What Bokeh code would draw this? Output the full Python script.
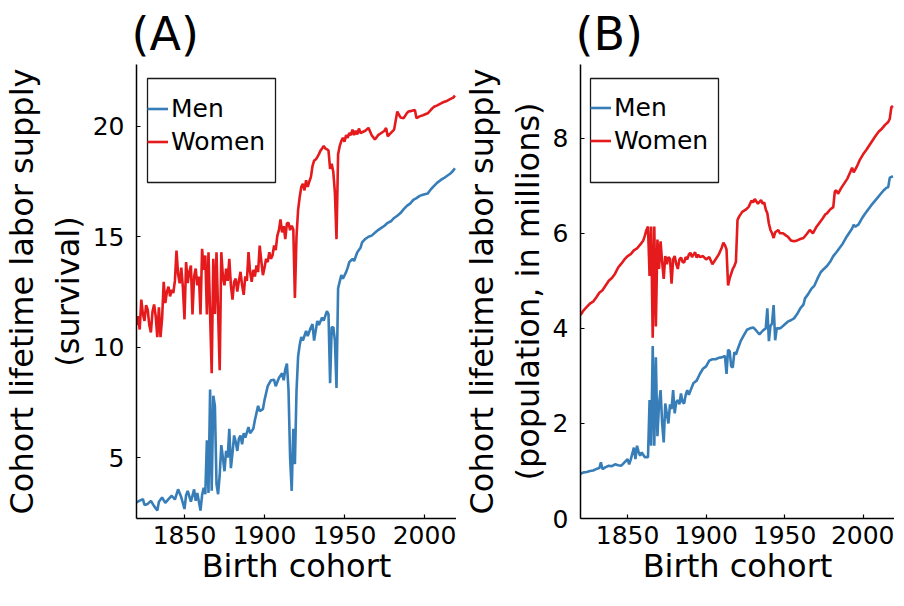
from bokeh.plotting import figure
from bokeh.layouts import row
from bokeh.models import Legend, LegendItem, Range1d, FixedTicker, BoxAnnotation
from bokeh.embed import file_html
from bokeh.resources import INLINE

# ---------------- data ----------------
# Panel A: cohort lifetime labor supply (survival)
a_men_years = [1820, 1822, 1824, 1825, 1827, 1829, 1831, 1833, 1834, 1836, 1838, 1840, 1842, 1844,
               1846, 1848, 1850, 1851, 1852, 1854, 1856, 1857, 1858, 1860, 1861, 1862, 1863, 1864,
               1865, 1866, 1867, 1868, 1869, 1870, 1871, 1872, 1873, 1874, 1875, 1876, 1877, 1878,
               1879, 1880, 1881, 1882, 1883, 1884, 1885, 1886, 1887, 1888, 1890, 1891, 1893, 1894,
               1896, 1897, 1899, 1900, 1902, 1904, 1906, 1907, 1909, 1911, 1912, 1913, 1914, 1915,
               1916, 1917, 1918, 1919, 1920, 1921, 1922, 1923, 1924, 1926, 1927, 1929, 1930, 1931,
               1933, 1934, 1936, 1937, 1939, 1940, 1941, 1942, 1943, 1944, 1945, 1946, 1948, 1949,
               1951, 1952, 1953, 1955, 1956, 1958, 1960, 1961, 1963, 1965, 1967, 1969, 1971, 1973,
               1975, 1977, 1979, 1981, 1983, 1985, 1987, 1989, 1991, 1993, 1995, 1997, 1999, 2002,
               2004, 2006, 2008, 2010, 2012, 2014, 2016, 2018, 2019]
a_men_vals = [2.97, 3.05, 3.12, 2.85, 2.9, 3.04, 2.8, 2.6, 3.0, 3.19, 2.95, 3.12, 3.27, 3.1,
              3.56, 3.2, 2.67, 3.3, 3.49, 3.0, 3.56, 3.04, 3.4, 2.6, 3.3, 3.63, 3.34, 5.78,
              3.4, 8.08, 3.5, 7.8, 7.34, 3.8, 3.34, 4.2, 5.56, 5.0, 4.38, 5.3, 5.0, 6.3,
              4.52, 5.2, 6.0, 5.71, 5.3, 5.86, 6.0, 5.6, 6.1, 5.9, 6.38, 6.1, 6.3, 6.7,
              7.34, 7.1, 7.19, 7.6, 8.23, 8.5, 8.52, 8.23, 8.6, 8.82, 8.5, 9.0, 9.26, 8.07,
              5.0, 3.49, 6.3, 4.7, 8.0, 9.57, 10.1, 10.46, 10.3, 10.74, 10.5, 10.9, 11.04, 10.3,
              11.19, 11.0, 11.34, 11.2, 11.63, 11.5, 8.37, 10.9, 10.9, 10.3, 8.15, 12.67, 13.26, 13.1,
              13.4, 13.6, 13.85, 14.0, 13.9, 14.3, 14.5, 14.74, 14.9, 15.0, 15.05, 15.18, 15.3, 15.4,
              15.5, 15.63, 15.7, 15.85, 15.95, 16.07, 16.25, 16.4, 16.5, 16.67, 16.75, 16.85, 16.9, 16.96,
              17.15, 17.3, 17.45, 17.56, 17.65, 17.75, 17.85, 18.0, 18.1]

a_women_years = list(range(1820, 1961)) + [1963, 1965, 1967, 1969, 1971, 1973, 1975, 1976, 1977,
                 1979, 1981, 1983, 1985, 1987, 1989, 1990, 1992, 1994, 1995, 1997, 1999, 2002,
                 2004, 2006, 2008, 2010, 2012, 2014, 2016, 2018, 2019]
a_women_vals = [11.0, 11.4, 10.8, 12.15, 11.5, 11.19, 11.9, 11.7, 11.0, 10.67,   # 1820-1829
                11.6, 11.93, 11.4, 10.45, 11.8, 10.45, 11.3, 12.96, 12.0, 12.5,    # 1830-1839
                12.74, 12.3, 12.6, 12.45, 13.0, 14.37, 13.3, 12.89, 13.6, 12.7,    # 1840-1849
                11.26, 13.85, 12.9, 13.4, 13.7, 11.48, 13.2, 13.56, 12.8, 13.2,    # 1850-1859
                11.48, 14.45, 13.5, 14.15, 11.48, 14.3, 11.5, 8.82, 14.0, 11.5,    # 1860-1869
                14.3, 11.6, 8.96, 14.3, 13.2, 12.8, 13.56, 13.0, 14.0, 12.8,       # 1870-1879
                12.15, 12.96, 13.1, 12.52, 13.0, 13.41, 12.8, 12.37, 13.2, 13.0,   # 1880-1889
                14.3, 13.4, 12.96, 13.5, 13.2, 13.7, 13.4, 14.6, 13.9, 13.26,      # 1890-1899
                13.6, 14.0, 13.85, 14.3, 14.0, 14.15, 14.6, 14.4, 15.04, 15.3,     # 1900-1909
                15.78, 15.2, 15.48, 14.89, 15.6, 15.63, 15.3, 15.5, 15.34, 12.23,  # 1910-1919
                15.0, 16.22, 16.8, 17.26, 17.4, 17.1, 17.56, 17.26, 17.5, 17.7,    # 1920-1929
                18.2, 18.45, 18.5, 18.6, 18.74, 18.9, 19.0, 19.11, 19.0, 18.96,    # 1930-1939
                18.9, 18.07, 18.3, 17.93, 17.0, 14.89, 18.74, 19.1, 19.33, 19.48,  # 1940-1949
                19.3, 19.6, 19.48, 19.7, 19.6, 19.85, 19.6, 19.8, 19.63, 19.9,     # 1950-1959
                19.7,                                                              # 1960
                19.8, 19.93, 19.6, 19.4, 19.6, 19.7, 19.8, 19.93, 19.55,
                19.7, 19.85, 20.67, 20.4, 20.37, 20.6, 20.67, 20.7, 20.74, 20.37, 20.45, 20.5, 20.59,
                20.75, 20.89, 20.95, 21.03, 21.1, 21.15, 21.23, 21.3, 21.4]

# Panel B: cohort lifetime labor supply (population, in millions)
b_men_years = [1820, 1822, 1824, 1826, 1828, 1830, 1832, 1833, 1834, 1836, 1838, 1840, 1842, 1844,
               1846, 1848, 1850, 1851, 1852, 1854, 1855, 1856, 1857, 1858, 1859, 1861, 1863, 1864,
               1865, 1866, 1867, 1868, 1869, 1870, 1871, 1872, 1873, 1874, 1875, 1876, 1877, 1878,
               1879, 1880, 1881, 1882, 1883, 1884, 1885, 1886, 1887, 1888, 1889, 1891, 1892, 1894,
               1896, 1898, 1900, 1902, 1904, 1906, 1908, 1910, 1912, 1913, 1914, 1915, 1916, 1917,
               1918, 1919, 1920, 1922, 1924, 1926, 1928, 1930, 1932, 1934, 1936, 1938, 1939, 1940,
               1941, 1942, 1943, 1944, 1945, 1947, 1948, 1950, 1952, 1954, 1956, 1958, 1960, 1962,
               1963, 1965, 1967, 1969, 1971, 1973, 1975, 1977, 1979, 1981, 1983, 1985, 1987, 1989,
               1991, 1993, 1994, 1995, 1997, 1999, 2001, 2003, 2005, 2007, 2009, 2011, 2013, 2015,
               2016, 2017, 2019]
b_men_vals = [0.94, 0.97, 0.98, 1.0, 1.01, 1.04, 1.06, 1.18, 1.04, 1.08, 1.11, 1.1, 1.14, 1.12,
              1.11, 1.18, 1.25, 1.14, 1.24, 1.49, 1.25, 1.53, 1.4, 1.32, 1.39, 1.29, 1.29, 2.49,
              1.53, 3.63, 1.53, 3.39, 1.73, 2.4, 2.7, 2.0, 1.6, 2.42, 2.2, 2.0, 2.4, 2.3,
              2.7, 2.21, 2.45, 2.49, 2.4, 2.63, 2.45, 2.42, 2.6, 2.7, 2.6, 2.77, 2.85, 2.9,
              3.04, 3.15, 3.2, 3.32, 3.35, 3.35, 3.38, 3.39, 3.42, 3.04, 3.55, 3.52, 3.2, 3.18,
              3.5, 3.45, 3.55, 3.73, 3.85, 3.97, 4.0, 4.02, 3.95, 3.87, 3.95, 4.0, 4.42, 3.73,
              4.05, 4.1, 4.49, 3.75, 4.0, 4.0, 4.02, 4.08, 4.14, 4.17, 4.21, 4.3, 4.42, 4.5,
              4.63, 4.72, 4.83, 4.9, 5.05, 5.18, 5.25, 5.31, 5.4, 5.52, 5.6, 5.69, 5.78, 5.9,
              6.0, 6.1, 6.18, 6.14, 6.18, 6.3, 6.4, 6.49, 6.58, 6.66, 6.74, 6.82, 6.9, 6.96,
              6.97, 7.17, 7.2]

b_women_years = [1820, 1822, 1824, 1826, 1828, 1830, 1832, 1834, 1836, 1838, 1840, 1842, 1844, 1846,
                 1848, 1850, 1852, 1854, 1856, 1858, 1860, 1861, 1862, 1863, 1864, 1865, 1866, 1867,
                 1868, 1869, 1870, 1871, 1872, 1873, 1874, 1875, 1876, 1877, 1878, 1879, 1880, 1881,
                 1882, 1883, 1884, 1885, 1886, 1887, 1888, 1889, 1890, 1891, 1892, 1893, 1894, 1895,
                 1896, 1898, 1900, 1902, 1904, 1906, 1908, 1910, 1911, 1912, 1913, 1914, 1915, 1916,
                 1917, 1918, 1919, 1920, 1921, 1923, 1925, 1927, 1929, 1930, 1931, 1933, 1935, 1936,
                 1937, 1938, 1939, 1940, 1941, 1942, 1943, 1944, 1946, 1947, 1949, 1951, 1952, 1954,
                 1956, 1958, 1960, 1962, 1964, 1966, 1968, 1970, 1972, 1974, 1976, 1977, 1979, 1981,
                 1982, 1983, 1984, 1986, 1988, 1990, 1992, 1993, 1994, 1996, 1998, 2000, 2002, 2004,
                 2006, 2008, 2010, 2012, 2014, 2016, 2017, 2018, 2019]
b_women_vals = [4.28, 4.38, 4.45, 4.52, 4.56, 4.65, 4.75, 4.8, 4.9, 5.0, 5.06, 5.15, 5.28, 5.36,
                5.45, 5.52, 5.56, 5.64, 5.68, 5.76, 5.85, 5.95, 6.07, 6.14, 5.1, 6.14, 3.8, 6.14,
                4.04, 5.87, 5.25, 5.83, 5.4, 5.04, 5.52, 5.35, 5.5, 5.46, 4.94, 5.45, 5.52, 5.35,
                5.25, 5.45, 5.49, 5.4, 5.38, 5.5, 5.45, 5.55, 5.59, 5.5, 5.55, 5.6, 5.49, 5.55,
                5.5, 5.52, 5.45, 5.5, 5.35, 5.45, 5.55, 5.7, 5.8, 5.75, 5.66, 4.9, 5.05, 5.15,
                5.25, 5.31, 5.4, 6.28, 6.35, 6.45, 6.49, 6.55, 6.69, 6.65, 6.72, 6.62, 6.7, 6.62,
                6.65, 6.5, 6.42, 6.2, 6.07, 6.0, 5.9, 6.02, 6.07, 6.0, 6.0, 5.95, 5.93, 5.85,
                5.83, 5.85, 5.88, 5.9, 5.98, 6.07, 6.0, 6.12, 6.21, 6.3, 6.4, 6.42, 6.5, 6.55,
                6.88, 6.9, 6.83, 6.95, 7.05, 7.15, 7.3, 7.38, 7.28, 7.4, 7.55, 7.66, 7.75, 7.85,
                7.95, 8.05, 8.14, 8.2, 8.28, 8.34, 8.41, 8.65, 8.68]

x_ticks = [1850, 1900, 1950, 2000]
a_y_ticks = [5, 10, 15, 20]
b_y_ticks = [0, 2, 4, 6, 8]

MEN_COLOR = "#377EB8"
WOMEN_COLOR = "#E41A1C"
FONT = "DejaVu Sans"

TOP = 62
FRAME_H = 454
BOTTOM = 74


def make_panel(title, ylabel, men_x, men_y, women_x, women_y, yrange, yticks,
               frame_w, left_border, box_left):
    p = figure(frame_width=frame_w, frame_height=FRAME_H,
               output_backend="svg", toolbar_location=None,
               x_range=Range1d(1820, 2020), y_range=Range1d(*yrange),
               min_border_left=left_border, min_border_right=0,
               min_border_top=TOP, min_border_bottom=BOTTOM)
    p.outline_line_color = None
    p.background_fill_color = "white"
    p.border_fill_color = "white"
    p.xgrid.visible = False
    p.ygrid.visible = False

    p.title.text = title
    p.title.text_font = FONT
    p.title.text_font_size = "46px"
    p.title.text_font_style = "normal"
    p.title.text_color = "black"
    p.title.align = "left"
    p.title.offset = -5
    p.title.standoff = 8

    for ax in (p.xaxis[0], p.yaxis[0]):
        ax.axis_line_color = "black"
        ax.axis_line_width = 1.5
        ax.major_tick_in = 4
        ax.major_tick_out = 0
        ax.minor_tick_line_color = None
        ax.major_tick_line_color = "black"
        ax.major_tick_line_width = 1.2
        ax.major_label_text_font = FONT
        ax.major_label_text_font_size = "25px"
        ax.major_label_text_color = "black"
        ax.axis_label_text_font = FONT
        ax.axis_label_text_font_size = "32px"
        ax.axis_label_text_font_style = "normal"
        ax.axis_label_text_color = "black"

    p.xaxis.ticker = FixedTicker(ticks=x_ticks)
    p.yaxis.ticker = FixedTicker(ticks=yticks)
    p.xaxis.axis_label = "Birth cohort"
    p.yaxis.axis_label = ylabel
    p.xaxis.major_label_standoff = 7
    p.xaxis.axis_label_standoff = 0
    p.yaxis.major_label_standoff = 12
    p.yaxis.axis_label_standoff = 3

    r_men = p.line(men_x, men_y, line_color=MEN_COLOR, line_width=2.6)
    r_women = p.line(women_x, women_y, line_color=WOMEN_COLOR, line_width=2.6)

    # legend frame (screen units, relative to the plot frame)
    box = BoxAnnotation(left=box_left, right=box_left + 128,
                        top=FRAME_H - 14, bottom=FRAME_H - 118,
                        left_units="screen", right_units="screen",
                        top_units="screen", bottom_units="screen",
                        fill_color="white", fill_alpha=1.0,
                        line_color="#1a1a1a", line_width=1.3, line_alpha=1.0)
    p.add_layout(box)

    legend = Legend(items=[LegendItem(label="Men", renderers=[r_men]),
                           LegendItem(label="Women", renderers=[r_women])],
                    location="top_left")
    legend.title = " "
    legend.title_text_font_size = "10px"
    legend.title_standoff = 6
    legend.margin = box_left
    legend.padding = 4
    legend.spacing = 0
    legend.label_height = 33
    legend.glyph_height = 33
    legend.glyph_width = 21
    legend.label_standoff = 3
    legend.label_text_font = FONT
    legend.label_text_font_size = "25px"
    legend.label_text_color = "black"
    legend.border_line_color = None
    legend.background_fill_alpha = 0.0
    p.add_layout(legend)
    return p


pa = make_panel("(A)", "Cohort lifetime labor supply\n(survival)",
                a_men_years, a_men_vals, a_women_years, a_women_vals,
                (2.24, 22.8), a_y_ticks, 320, 130, 11)
pb = make_panel("(B)", "Cohort lifetime labor supply\n(population, in millions)",
                b_men_years, b_men_vals, b_women_years, b_women_vals,
                (0, 9.55), b_y_ticks, 314, 124, 10)

layout = row(pa, pb)
open("out.html", "w").write(file_html(layout, INLINE))
